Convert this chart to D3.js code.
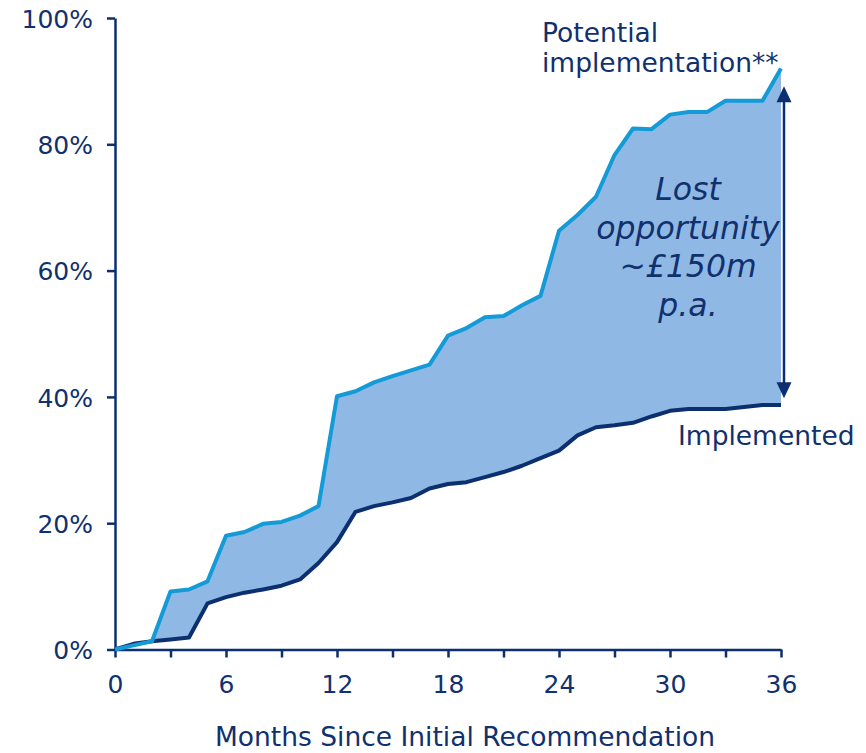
<!DOCTYPE html>
<html>
<head>
<meta charset="utf-8">
<script src="https://cdn.jsdelivr.net/npm/d3@7"></script>
<style>
  body { margin: 0; background: #fff; }
  svg text { font-family: "DejaVu Sans", Verdana, sans-serif; fill: #11306e; }
</style>
</head>
<body>
<svg id="chart" width="866" height="753"></svg>
<script>
// Months since initial recommendation (0..36)
const months = d3.range(0, 37);

// % of recommendations implemented (dark line)
const implemented = [0, 0.9, 1.3, 1.6, 1.9, 7.3, 8.3, 9.0, 9.5, 10.1, 11.1, 13.7, 17.0,
  21.8, 22.7, 23.3, 24.0, 25.5, 26.2, 26.5, 27.3, 28.1, 29.1, 30.3, 31.5,
  33.9, 35.2, 35.5, 35.9, 36.9, 37.8, 38.1, 38.1, 38.1, 38.4, 38.7, 38.7];

// potential implementation (light line)
const potential = [0, 0.65, 1.3, 9.2, 9.5, 10.8, 18.0, 18.6, 19.9, 20.2, 21.2, 22.7, 40.1,
  40.9, 42.3, 43.3, 44.2, 45.1, 49.7, 50.9, 52.6, 52.8, 54.5, 56.0, 66.3,
  68.8, 71.7, 78.3, 82.5, 82.4, 84.7, 85.1, 85.1, 86.9, 86.9, 86.9, 92.0];

const xTicks = d3.range(0, 37, 3);
const xLabels = [0, 6, 12, 18, 24, 30, 36];
const yTicks = [0, 20, 40, 60, 80, 100];
const lostLines = ["Lost", "opportunity", "~£150m", "p.a."];
const arrowRange = [39.8, 89.2];

const navy = "#0b2f6f";
const light = "#139bd8";
const fill = "#8fb9e4";

const svg = d3.select("#chart");

const x = d3.scaleLinear().domain([0, 36]).range([115, 781]);
const y = d3.scaleLinear().domain([0, 100]).range([649.5, 18]);

const data = months.map((m, i) => ({ m, lo: implemented[i], hi: potential[i] }));

// shaded gap
const area = d3.area()
  .x(d => x(d.m))
  .y0(d => y(d.lo))
  .y1(d => y(d.hi));

svg.append("path")
  .datum(data)
  .attr("d", area)
  .attr("fill", fill);

// axes
const xAxis = d3.axisBottom(x)
  .tickValues(xTicks)
  .tickSize(8)
  .tickSizeOuter(0)
  .tickFormat(d => xLabels.includes(d) ? d : "");

const gx = svg.append("g")
  .attr("transform", `translate(0,${y(0)})`)
  .call(xAxis);

const yAxis = d3.axisLeft(y)
  .tickValues(yTicks)
  .tickSize(8)
  .tickSizeOuter(0)
  .tickFormat(d => d + "%");

const gy = svg.append("g")
  .attr("transform", `translate(${x(0)},0)`)
  .call(yAxis);

[gx, gy].forEach(g => {
  g.select(".domain").attr("stroke", navy).attr("stroke-width", 2.5);
  g.selectAll(".tick line").attr("stroke", navy).attr("stroke-width", 2.5);
  g.selectAll(".tick text")
    .attr("fill", navy)
    .style("font-size", "25px")
    .style("font-family", "DejaVu Sans, sans-serif");
});
gx.selectAll(".tick text").attr("y", 26).attr("dy", "0.71em");
gy.selectAll(".tick text").attr("x", -22).attr("dy", "0.37em");

// lines
const line = key => d3.line().x(d => x(d.m)).y(d => y(d[key]));

svg.append("path")
  .datum(data)
  .attr("d", line("lo"))
  .attr("fill", "none")
  .attr("stroke", navy)
  .attr("stroke-width", 4)
  .attr("stroke-linejoin", "round");

svg.append("path")
  .datum(data)
  .attr("d", line("hi"))
  .attr("fill", "none")
  .attr("stroke", light)
  .attr("stroke-width", 4)
  .attr("stroke-linejoin", "round");

// double arrow
const ax = x(36) + 3;
const yTop = y(arrowRange[1]);
const yBot = y(arrowRange[0]);
svg.append("line")
  .attr("x1", ax).attr("x2", ax)
  .attr("y1", yTop + 10).attr("y2", yBot - 10)
  .attr("stroke", navy).attr("stroke-width", 2.5);
svg.append("path")
  .attr("d", `M${ax},${yTop} L${ax - 7.5},${yTop + 16} L${ax + 7.5},${yTop + 16} Z`)
  .attr("fill", navy);
svg.append("path")
  .attr("d", `M${ax},${yBot} L${ax - 7.5},${yBot - 16} L${ax + 7.5},${yBot - 16} Z`)
  .attr("fill", navy);

// labels
svg.append("text")
  .attr("x", 542).attr("y", 42)
  .style("font-size", "26.5px")
  .text("Potential");
svg.append("text")
  .attr("x", 542).attr("y", 72)
  .style("font-size", "26.5px")
  .text("implementation**");

svg.append("text")
  .attr("x", 678).attr("y", 445)
  .style("font-size", "26.5px")
  .text("Implemented");

svg.append("g")
  .selectAll("text")
  .data(lostLines)
  .join("text")
  .attr("x", 688)
  .attr("y", (d, i) => 200 + i * 38.7)
  .attr("text-anchor", "middle")
  .style("font-size", "31.5px")
  .style("font-style", "italic")
  .text(d => d);

// x axis title
svg.append("text")
  .attr("x", 465).attr("y", 746)
  .attr("text-anchor", "middle")
  .style("font-size", "26.5px")
  .text("Months Since Initial Recommendation");
</script>
</body>
</html>
